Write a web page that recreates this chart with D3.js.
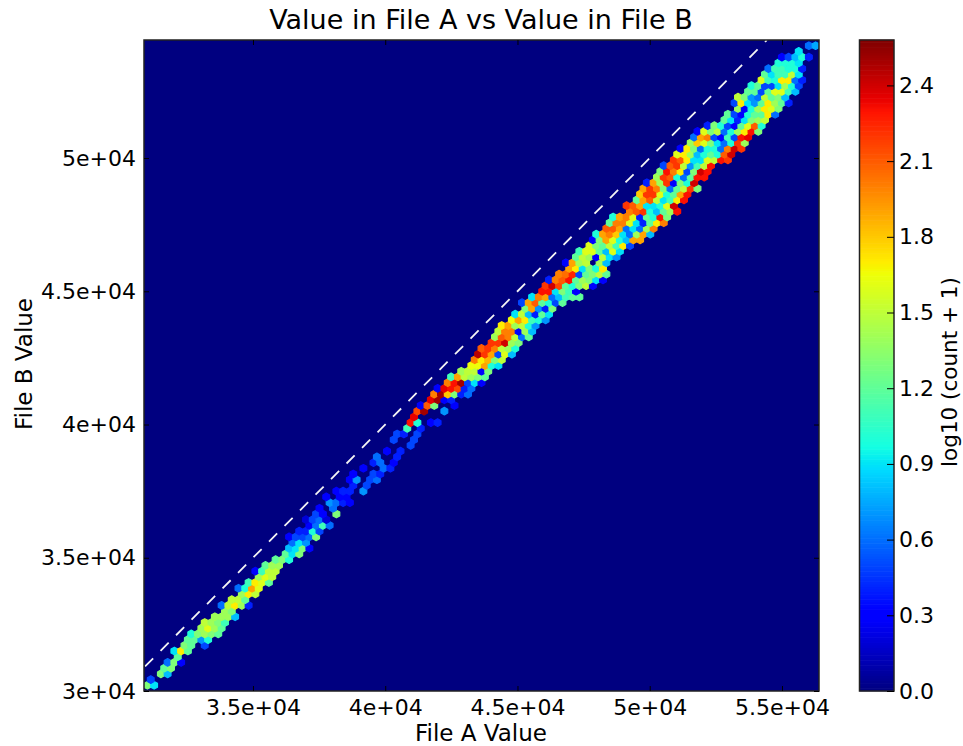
<!DOCTYPE html>
<html><head><meta charset="utf-8">
<style>html,body{margin:0;padding:0;background:#fff}svg{display:block}text{font-family:"DejaVu Sans";fill:#000}</style>
<script src="https://cdn.jsdelivr.net/npm/d3@7/dist/d3.min.js"></script>
</head><body><svg id="c" width="963" height="746"></svg>
<script>
const titleText="Value in File A vs Value in File B", xLabel="File A Value", yLabel="File B Value", cbLabel="log10 (count + 1)";
const xTicks=[35000,40000,45000,50000,55000], xTickLabels=["3.5e+04","4e+04","4.5e+04","5e+04","5.5e+04"];
const yTicks=[30000,35000,40000,45000,50000], yTickLabels=["3e+04","3.5e+04","4e+04","4.5e+04","5e+04"];
const cbTicks=[0,0.3,0.6,0.9,1.2,1.5,1.8,2.1,2.4];
const xDomain=[30880,56400], yDomain=[30000,54430], cbDomain=[0,2.58];
const refLine=[30880,54430];
const gridColsHalf=200, gridRowsHalf=114;
// each lattice row (bottom to top): first half-column index, then log10(count+1) every second half-column
const rowStart=[1,2,5,6,7,10,9,12,13,14,17,18,21,24,23,26,29,28,31,34,33,36,39,42,43,44,43,46,49,48,51,52,55,54,57,62,61,62,65,68,69,72,79,74,75,78,79,80,81,82,85,86,87,90,91,94,97,98,99,100,103,104,105,106,109,110,113,112,115,118,119,120,123,126,125,128,129,132,133,134,137,138,139,144,143,146,147,148,149,152,153,154,157,158,159,162,163,164,167,172,173,176,175,176,179,180,183,184,185,188,189,194,197];
const rowValues=[
[1.3,.9],[.5],[1.3,.8],[1.2,1.3],[.6,1.3,.3],[1.2],[.9,1.7,1.2],[1.3,1.2,0,.5],[1.2,1.2,.7,1.0],[1.0,1.3,1.4,1.3,1.2],
[1.4,1.6,1.4,1.2],[1.5,1.4,1.3,1.1],[1.4,1.4,1.4,.8],[1.4,1.3],[.6,1.5,1.7,1.4,.4],[1.5,1.5,1.2],[1.4,1.7,1.5],[.6,1.0,1.9,1.6],[1.1,1.7,1.6,1.2],[1.4,1.6,1.5],
[.3,1.1,1.5,1.5],[1.2,1.4,1.4],[1.2,1.3,1.0],[1.2,.9,1.3],[.8,.9,1.3,.3],[.6,.9,.7],[.3,.5,.5,.6,1.3],[.4,.4,1.0,.5],[.3,.6,1.1,.6],[.2,.5,.6,.2],
[.5,.3,0,1.3],[.3,0,.6],[.7,.6,.4,.3],[.3,0,.3,.3],[.3,.4,.4,0,.7],[.4,0,.5],[.3,.7,0,.5,.6],[.3,0,0,.5,.4],[.3,0,0,.6,.4],[.4,.6,0,.3],
[.6,0,0,.4],[.3,0,.4],[.5],[.5,0,0,.5],[.5,.4,0,.5],[1.1,0,.4],[2.3,1.0,0,.3,.4],[2.35],[2.15,2.5,0,0,.7],[.3,2.1,1.3,0,0,.3],
[2.35,2.5,.3,.4],[2.0,2.5,1.8,1.3,.4,.6],[.3,2.35,2.3,2.15,.4,.6],[2.0,2.3,2.5,.5,.9,.3],[1.1,1.9,1.5,1.4,1.3,1.2],[1.4,1.5,1.5,.3,1.3],[1.65,1.65,1.9,1.0,.9],[2.0,1.7,1.85,1.3,1.5],[2.45,2.2,1.9,.5,1.6,.8],[2.1,2.2,2.0,1.5,1.4,1.0],
[2.2,2.2,2.4,1.4,1.3],[1.4,2.1,2.0,1.5,.6,1.2],[1.5,2.0,2.0,.3,1.4,.8],[1.7,1.9,1.4,1.5,1.0,.7],[1.65,1.9,1.7,1.1,1.0,.7],[.9,1.5,.8,.4,1.2,.9],[1.3,1.9,.7,.4,1.3],[.5,1.9,2.1,1.2,1.0,.5,1.2],[.9,2.0,1.9,.6,.8,1.1,1.2,1.2],[2.3,2.3,.9,1.3,1.1,.3],
[2.2,2.4,2.15,1.2,1.0,1.3,1.5,.3],[.4,2.0,2.1,2.3,1.2,1.4,1.3,.9,.3],[2.0,2.05,2.25,.5,1.2,1.3,1.5,1.2],[1.9,1.7,.9,1.3,1.0,1.7],[.3,1.9,1.4,1.5,0,1.4,.8],[1.2,1.5,1.4,.3,1.5,.9,.7],[1.1,1.6,1.6,1.2,.8,1.6,.9],[1.6,1.3,1.2,1.5,1.1,1.7,.5],[.3,1.3,1.9,1.6,1.0,.8,1.9,1.9],[1.0,1.9,2.0,1.8,.9,.6,1.4,1.9,.8],
[2.1,2.1,1.9,.6,.9,.6,1.4,2.0],[1.2,2.0,2.0,1.6,.9,.4,1.2,1.7,2.0],[1.0,1.9,2.0,1.6,.4,1.2,1.0,2.3,1.3],[2.0,2.1,2.2,1.0,.8,1.2,1.4,2.3],[2.2,2.1,1.9,.9,.9,1.0,1.6,2.4],[1.2,1.9,2.1,1.5,.9,1.1,1.7,2.3],[1.8,2.2,2.2,1.6,1.0,1.2,1.9,2.3],[1.9,2.2,2.0,1.3,.6,1.2,1.5,2.2,1.3],[.4,1.9,1.4,2.2,.3,1.3,1.0,2.4],[1.4,2.2,2.1,1.0,.6,1.2,2.3,2.3],
[1.3,2.3,2.0,1.7,.5,1.3,2.4,2.3],[.5,2.1,2.2,1.5,.7,1.1,1.5,2.3],[2.2,2.1,1.7,.9,.9,1.6,1.5,2.3,2.2],[1.6,1.7,1.4,.8,1.0,1.2,1.0,2.1,2.4],[.3,1.7,1.3,.6,1.0,1.0,.6,2.0,2.4,2.2],[1.4,1.8,1.6,1.3,.9,.6,1.0,2.2,1.4],[.6,1.9,2.0,.5,.3,1.1,.5,2.3,2.35],[.3,1.6,1.3,1.5,.6,1.0,1.4,1.7,2.3,1.3],[.4,1.3,1.0,.5,.3,1.2,1.6,2.1,1.0],[1.2,.9,.4,.9,1.3,1.4,1.5],
[1.2,.5,.3,1.0,1.2,1.2,1.7,.6],[1.4,.3,1.0,1.4,1.7,1.6,1.3],[.5,1.7,.9,.7,1.2,1.7,1.4,1.2,.4],[1.5,1.3,.7,.6,1.5,1.2,1.3,.8],[1.2,1.2,.5,1.2,1.6,1.6,1.1,.8],[1.0,1.2,.5,.5,.9,1.4,1.0,.5],[1.6,1.1,1.0,1.7,1.7,.6,.4],[1.2,.9,1.1,1.1,1.5,.9],[.6,1.1,1.1,1.0,1.0,.4],[1.0,1.0,1.0,.9],
[.3,.5,.8,1.0,.4],[.9],[.6,.75]];

const plot={l:144,r:819,t:40,b:691}, bar={l:859.5,r:894};
const svg=d3.select("#c");
const x=d3.scaleLinear().domain(xDomain).range([plot.l,plot.r]);
const y=d3.scaleLinear().domain(yDomain).range([plot.b,plot.t]);
const cbY=d3.scaleLinear().domain(cbDomain).range([plot.b,plot.t]);
const ch=(pts)=>d3.scaleLinear().domain(pts.map(p=>p[0])).range(pts.map(p=>p[1])).clamp(true);
const rC=ch([[0,0],[.35,0],[.66,255],[.89,255],[1,127.5]]);
const gC=ch([[0,0],[.125,0],[.375,255],[.64,255],[.91,0],[1,0]]);
const bC=ch([[0,127.5],[.11,255],[.34,255],[.65,0],[1,0]]);
const jet=v=>{const t=v/cbDomain[1];return d3.rgb(rC(t),gC(t),bC(t)).toString();};

const defs=svg.append("defs");
defs.append("clipPath").attr("id","pc").append("rect").attr("x",plot.l).attr("y",plot.t).attr("width",plot.r-plot.l).attr("height",plot.b-plot.t);
svg.append("rect").attr("x",plot.l).attr("y",plot.t).attr("width",plot.r-plot.l).attr("height",plot.b-plot.t).attr("fill",jet(0));

const stepA=(xDomain[1]-xDomain[0])/gridColsHalf, stepB=(yDomain[1]-yDomain[0])/gridRowsHalf;
const cells=[];
rowValues.forEach((vals,i)=>vals.forEach((v,j)=>{if(v>0)cells.push({a:xDomain[0]+(rowStart[i]+2*j)*stepA,b:yDomain[0]+(i+1)*stepB,v});}));
const hw=x(xDomain[0]+stepA)-x(xDomain[0]), hh=(y(yDomain[0])-y(yDomain[0]+stepB))*2/3;
const hexPath=`M0,${-hh}L${hw},${-hh/2}L${hw},${hh/2}L0,${hh}L${-hw},${hh/2}L${-hw},${-hh/2}Z`;
const g=svg.append("g").attr("clip-path","url(#pc)");
g.selectAll("path").data(cells).join("path").attr("d",hexPath)
 .attr("transform",d=>`translate(${x(d.a)},${y(d.b)})`)
 .attr("fill",d=>jet(d.v)).attr("stroke",d=>jet(d.v)).attr("stroke-width",1.2).attr("stroke-linejoin","round");
g.append("line").attr("x1",x(refLine[0])).attr("y1",y(refLine[0])).attr("x2",x(refLine[1])).attr("y2",y(refLine[1]))
 .attr("stroke","#f4f4f4").attr("stroke-width",1.8).attr("stroke-dasharray","11.5 10.5").attr("stroke-dashoffset",-1.5);

svg.append("rect").attr("x",plot.l).attr("y",plot.t).attr("width",plot.r-plot.l).attr("height",plot.b-plot.t).attr("fill","none").attr("stroke","#222").attr("stroke-width",1.5);
const tl=5, fs=22;
const style=(a)=>{a.select(".domain").remove();a.selectAll("line").attr("stroke","#000").attr("stroke-width",1);a.selectAll("text").attr("font-size",fs).attr("font-family","DejaVu Sans").attr("fill","#000");};
svg.append("g").attr("transform",`translate(0,${plot.b})`).call(d3.axisBottom(x).tickValues(xTicks).tickFormat((d,i)=>xTickLabels[i]).tickSizeInner(-tl).tickPadding(8)).call(style);
svg.append("g").attr("transform",`translate(0,${plot.t})`).call(d3.axisTop(x).tickValues(xTicks).tickFormat("").tickSizeInner(-tl)).call(style);
svg.append("g").attr("transform",`translate(${plot.l},0)`).call(d3.axisLeft(y).tickValues(yTicks).tickFormat((d,i)=>yTickLabels[i]).tickSizeInner(-tl).tickPadding(8)).call(style);
svg.append("g").attr("transform",`translate(${plot.r},0)`).call(d3.axisRight(y).tickValues(yTicks).tickFormat("").tickSizeInner(-tl)).call(style);

// colour bar
const levels=d3.range(256).map(i=>cbDomain[0]+(cbDomain[1]-cbDomain[0])*(i+.5)/256);
const lh=(plot.b-plot.t)/256;
svg.append("g").selectAll("rect").data(levels).join("rect").attr("x",bar.l).attr("width",bar.r-bar.l)
 .attr("y",d=>cbY(d)-lh/2-.3).attr("height",lh+.6).attr("fill",d=>jet(d));
svg.append("rect").attr("x",bar.l).attr("y",plot.t).attr("width",bar.r-bar.l).attr("height",plot.b-plot.t).attr("fill","none").attr("stroke","#222").attr("stroke-width",1.5);
svg.append("g").attr("transform",`translate(${bar.r},0)`).call(d3.axisRight(cbY).tickValues(cbTicks).tickFormat(d3.format(".1f")).tickSizeInner(-7).tickPadding(5)).call(style);

svg.append("text").attr("x",481).attr("y",29).attr("text-anchor","middle").attr("font-size",27).text(titleText);
svg.append("text").attr("x",481).attr("y",741).attr("text-anchor","middle").attr("font-size",23).text(xLabel);
svg.append("text").attr("transform","translate(32,364) rotate(-90)").attr("text-anchor","middle").attr("font-size",23).text(yLabel);
svg.append("text").attr("transform","translate(957,372) rotate(-90)").attr("text-anchor","middle").attr("font-size",21.5).text(cbLabel);
</script></body></html>
